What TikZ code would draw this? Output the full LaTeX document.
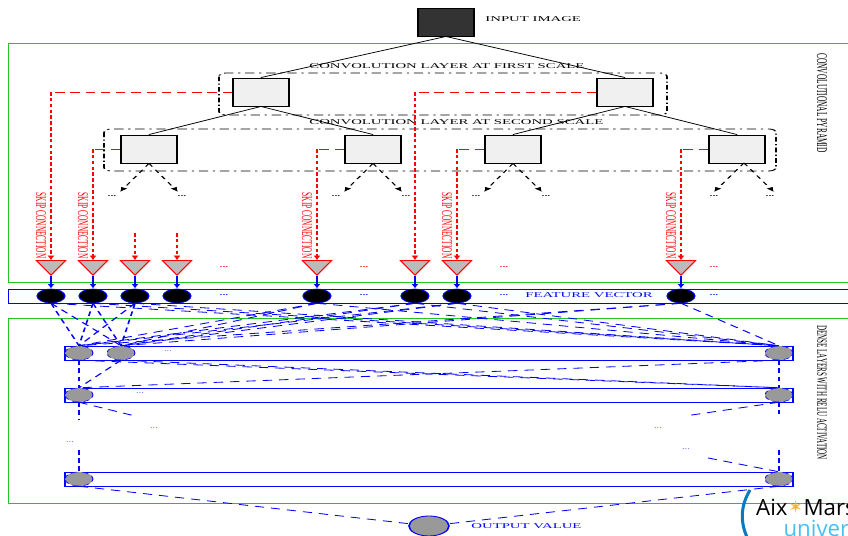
\documentclass[tikz,border=0pt]{standalone}
\usepackage{fontspec}
\setmainfont{Liberation Serif}
\newfontfamily\logofont{Open Sans}
\newfontfamily\logosym{DejaVu Sans}
\usetikzlibrary{arrows.meta}
\usetikzlibrary{shapes.geometric}
\definecolor{cnn-red}{HTML}{FF0000}
\definecolor{cnn-blue}{HTML}{0000FF}
\definecolor{cnn-green}{HTML}{1FC81F}
\definecolor{cnn-grey}{HTML}{999999}
\definecolor{cnn-tri}{HTML}{BBBBBB}
\definecolor{logo-blue}{HTML}{0A7ABF}
\definecolor{logo-cyan}{HTML}{45C1F1}
\definecolor{logo-orange}{HTML}{F9B233}
\tikzset{
    lbl/.style={font=\fontsize{6.3}{7}\selectfont, inner sep=0pt},
    dots/.style={font=\bfseries\fontsize{5}{6}\selectfont, inner sep=0pt},
    frame-line/.style={line width=0.8pt},
    conv-box/.style={draw=black, fill=black!6, line width=0.8pt, minimum width=0.84cm, minimum height=0.84cm, inner sep=0pt},
    scale-group/.style={line width=0.7pt, rounded corners=3pt, dash pattern=on 4pt off 2pt on 1pt off 2pt},
    skip-h/.style={cnn-red, line width=0.6pt, dash pattern=on 4pt off 2.5pt},
    skip-v/.style={cnn-red, line width=0.6pt, dash pattern=on 3pt off 2pt, -{Latex[length=4pt,width=3pt]}},
    pool-tri/.style={draw=cnn-red, fill=cnn-tri, line width=0.6pt, isosceles triangle, isosceles triangle stretches, shape border rotate=-90, minimum width=0.435cm, minimum height=0.435cm, inner sep=0pt, anchor=apex},
    feat-dot/.style={circle, draw=cnn-blue, fill=black, line width=0.5pt, minimum size=0.42cm, inner sep=0pt},
    dense-dot/.style={circle, draw=cnn-blue, fill=cnn-grey, line width=0.4pt, densely dashed, minimum size=0.42cm, inner sep=0pt},
    link/.style={cnn-blue, line width=0.7pt, dash pattern=on 4pt off 3pt},
}
\begin{document}
\begin{tikzpicture}[>={Latex[length=4pt,width=3pt]}]
    \useasboundingbox (0,0) rectangle (25.44,-16.05);
    \clip (0,0) rectangle (25.44,-16.05);

    % Everything but the logo is stretched twice along x
    \begin{scope}[transform canvas={xscale=2}, x=0.015cm, y=-0.03cm]

    % Outer frames
    \draw[cnn-green, frame-line] (8.5,43) rectangle (900,282);
    \draw[cnn-green, frame-line] (8.5,318) rectangle (900,503);
    \draw[cnn-blue, frame-line] (8.5,289) rectangle (900,303.5);

    % Input and convolution boxes
    \node[conv-box, fill=black!80] (input) at (446,22) {};
    \node[lbl, anchor=west] (inputlabel) at (485,19) {INPUT IMAGE};
    \foreach \name/\x in {c1a/261, c1b/625} {
        \node[conv-box] (\name) at (\x,92) {};
    }
    \foreach \name/\x in {c2a/149, c2b/373, c2c/513, c2d/737} {
        \node[conv-box] (\name) at (\x,149) {};
    }
    \draw[scale-group] (219,73) rectangle (667,115);
    \draw[scale-group] (104,129) rectangle (776,171);
    \node[lbl, anchor=west] (firstlabel) at (309,66) {CONVOLUTION LAYER AT FIRST SCALE};
    \node[lbl, anchor=west] (secondlabel) at (309,122) {CONVOLUTION LAYER AT SECOND SCALE};
    \node[lbl, rotate=-90] (pyramidlabel) at (822,103) {CONVOLUTIONAL PYRAMID};

    % Pyramid edges
    \foreach \a/\b in {input/c1a, input/c1b, c1a/c2a, c1a/c2b, c1b/c2c, c1b/c2d} {
        \draw[line width=0.6pt] (\a.south) -- (\b.north);
    }

    % Next scales, left out
    \foreach \name/\x/\xa/\xb in {c2a/149/120/178, c2b/373/344/402, c2c/513/484/542} {
        \draw[->, line width=0.6pt, dashed] (\name.south) -- (\xa,192);
        \draw[->, line width=0.6pt, dashed] (\name.south) -- (\xb,192);
    }
    \coordinate (apex) at (744,163);
    \draw[->, line width=0.6pt, dashed] (apex) -- (714,192);
    \draw[->, line width=0.6pt, dashed] (apex) -- (774,192);
    \foreach \i/\x in {1/112, 2/182, 3/336, 4/406, 5/476, 6/546, 7/714, 8/770} {
        \node[dots] (more\i) at (\x,196) {...};
    }

    % Pooling triangles and feature vector
    \foreach \i/\x in {1/51, 2/93, 3/135, 4/177, 5/317, 6/415, 7/457, 8/681} {
        \node[pool-tri] (t\i) at (\x,276) {};
        \node[feat-dot] (f\i) at (\x,296) {};
        \draw[->, cnn-blue, line width=0.8pt] (t\i.apex) -- (f\i.north);
    }
    \foreach \i/\x in {1/224, 2/364, 3/504, 4/714} {
        \node[dots, cnn-red] (reddots\i) at (\x,267) {...};
        \node[dots, cnn-blue] (bluedots\i) at (\x,295) {...};
    }
    \node[lbl, cnn-blue, anchor=west] (featurelabel) at (525,295) {FEATURE VECTOR};

    % Skip connections
    \foreach \a/\b in {c1a/t1, c2a/t2, c2b/t5, c1b/t6, c2c/t7, c2d/t8} {
        \draw[skip-h] (\a.west) -- (\a.west -| \b.north);
        \draw[skip-v] (\a.west -| \b.north) -- (\b.north);
    }
    \coordinate (startc) at (135,233);
    \coordinate (startd) at (177,233);
    \draw[skip-v] (startc) -- (t3.north);
    \draw[skip-v] (startd) -- (t4.north);
    \foreach \i/\x in {1/41, 2/83, 3/307, 4/447, 5/671} {
        \node[lbl, cnn-red, rotate=-90] (skiplabel\i) at (\x,225.5) {SKIP CONNECTION};
    }

    % Dense layers
    \foreach \y in {346, 388, 472} {
        \draw[cnn-blue, frame-line] (65,\y) rectangle (793,\y+14);
    }
    \foreach \name/\x/\y in {d1a/79/353, d1b/121/353, d1c/779/353, d2a/79/395, d2c/779/395, d3a/79/479, d3c/779/479} {
        \node[dense-dot] (\name) at (\x,\y) {};
    }
    \node[circle, draw=cnn-blue, fill=cnn-grey, line width=0.7pt, minimum size=0.6cm, inner sep=0pt] (output) at (429,526) {};
    \node[lbl, cnn-blue, anchor=west] (outputlabel) at (471,526) {OUTPUT VALUE};
    \node[lbl, rotate=-90, font=\fontsize{6}{7}\selectfont] (denselabel) at (822,392.5) {DENSE LAYERS WITH RELU ACTIVATION};

    % Dense links
    \foreach \a in {f1, f2, f3, f5, f6, f7, f8} {
        \foreach \b in {d1a, d1b, d1c} {
            \draw[link] (\a.south) -- (\b.north);
        }
    }
    \foreach \a in {d1a, d1b, d1c} {
        \foreach \b in {d2a, d2c} {
            \draw[link] (\a.south) -- (\b.north);
        }
    }
    \coordinate (gapa) at (79,420);
    \coordinate (gapb) at (135,416);
    \coordinate (gapc) at (779,414);
    \coordinate (gapd) at (685,416);
    \coordinate (gape) at (79,450);
    \coordinate (gapf) at (779,450);
    \coordinate (gapg) at (708,458);
    \draw[link] (d2a.south) -- (gapa);
    \draw[link] (d2a.south) -- (gapb);
    \draw[link] (d2c.south) -- (gapc);
    \draw[link] (d2c.south) -- (gapd);
    \draw[link] (gape) -- (d3a.north);
    \draw[link] (gapf) -- (d3c.north);
    \draw[link] (gapg) -- (d3c.north);
    \draw[link] (d3a.south) -- (output);
    \draw[link] (d3c.south) -- (output);
    \foreach \i/\x/\y in {1/168/351, 2/140/393, 3/154/428, 4/70/442, 5/658/428, 6/686/449} {
        \node[dots, cnn-blue, font=\fontsize{4.5}{5}\selectfont] (densedots\i) at (\x,\y) {...};
    }
    \end{scope}

    % Logo in the corner
    \draw[logo-blue, line width=2.6pt] (22.5,-14.7) .. controls (22.2,-15.2) and (22.2,-15.7) .. (22.45,-16.2);
    \node[font=\logofont\fontsize{19}{20}\selectfont, inner sep=0pt, anchor=base west] (logoaix) at (22.68,-15.47) {Aix};
    \node[font=\logosym\fontsize{15}{16}\selectfont, logo-orange, inner sep=0pt] (logostar) at (23.87,-15.2) {✶};
    \node[font=\logofont\fontsize{19}{20}\selectfont, inner sep=0pt, anchor=base west] (logomars) at (24.1,-15.47) {Mars};
    \node[font=\logofont\fontsize{19}{20}\selectfont, logo-cyan, inner sep=0pt, anchor=base west] (logouniv) at (23.5,-16.1) {univer};
\end{tikzpicture}
\end{document}
